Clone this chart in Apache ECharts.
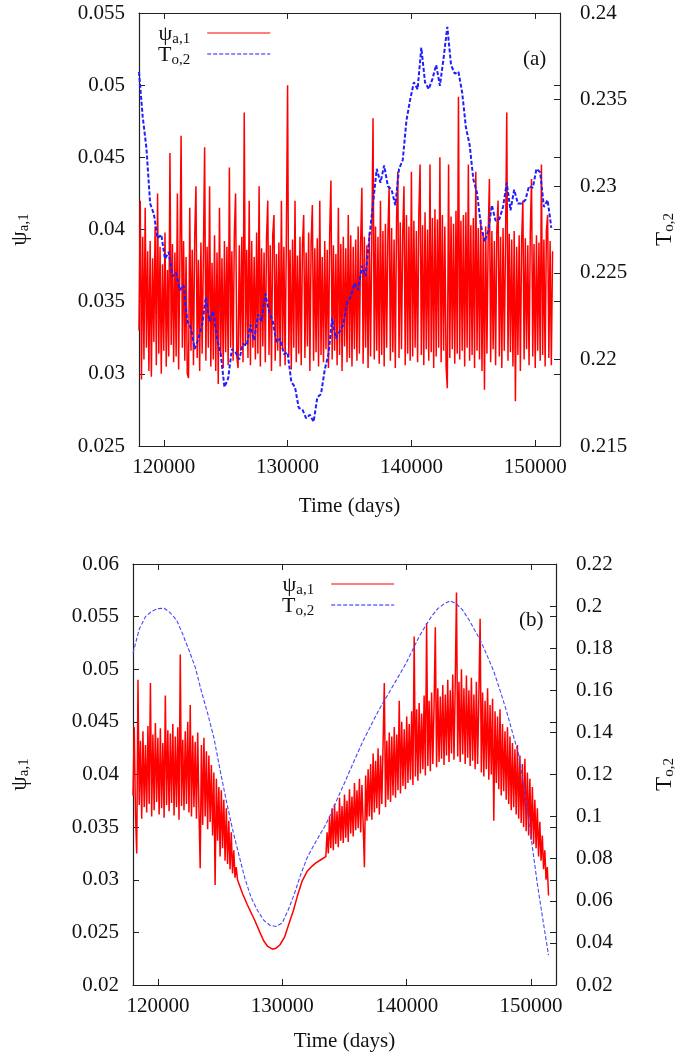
<!DOCTYPE html>
<html>
<head>
<meta charset="utf-8">
<script src="https://cdn.jsdelivr.net/npm/echarts@6/dist/echarts.min.js"></script>
<style>
html,body{margin:0;padding:0;background:#fff;}
#c{width:685px;height:1059px;}
</style>
</head>
<body>
<div id="c"></div>
<script>
// ---------- DATA ----------
var timeTicks = [120000, 130000, 140000, 150000];

// Panel (a): psi_a,1, sampled every 100 days from 118000
var redTopStart = 118000, redTopStep = 100;
var redTopVal = [
.0330,.0420,.0296,.0395,.0310,.0415,.0318,.0385,.0302,.0392,
.0298,.0380,.0322,.0402,.0306,.0425,.0314,.0388,.0300,.0376,
.0316,.0398,.0305,.0372,.0312,.0453,.0320,.0390,.0308,.0384,
.0312,.0425,.0303,.0378,.0465,.0318,.0392,.0309,.0381,.0300,
.0297,.0415,.0316,.0386,.0306,.0395,.0430,.0311,.0379,.0302,
.0391,.0314,.0382,.0457,.0309,.0388,.0318,.0430,.0305,.0377,
.0310,.0396,.0302,.0384,.0293,.0415,.0312,.0380,.0304,.0392,
.0315,.0388,.0306,.0443,.0318,.0385,.0309,.0397,.0425,.0312,
.0304,.0389,.0316,.0395,.0308,.0481,.0320,.0386,.0311,.0420,
.0306,.0392,.0318,.0381,.0310,.0398,.0314,.0430,.0305,.0387,
.0319,.0384,.0308,.0394,.0420,.0313,.0389,.0302,.0396,.0410,
.0309,.0383,.0316,.0391,.0305,.0420,.0317,.0388,.0306,.0394,
.0500,.0312,.0386,.0303,.0393,.0318,.0420,.0308,.0382,.0314,
.0395,.0306,.0389,.0410,.0311,.0384,.0319,.0398,.0302,.0390,
.0417,.0309,.0387,.0315,.0394,.0305,.0420,.0313,.0381,.0308,
.0392,.0317,.0386,.0304,.0398,.0434,.0310,.0389,.0316,.0383,
.0306,.0415,.0313,.0390,.0302,.0395,.0319,.0387,.0308,.0410,
.0311,.0396,.0305,.0388,.0317,.0393,.0309,.0402,.0314,.0391,
.0429,.0307,.0395,.0318,.0389,.0304,.0398,.0312,.0392,.0477,
.0310,.0402,.0316,.0395,.0307,.0420,.0313,.0399,.0305,.0404,
.0318,.0396,.0430,.0309,.0401,.0315,.0393,.0304,.0407,.0440,
.0311,.0405,.0317,.0398,.0430,.0306,.0410,.0314,.0402,.0309,
.0440,.0312,.0406,.0318,.0399,.0308,.0411,.0445,.0313,.0403,
.0306,.0412,.0317,.0400,.0309,.0445,.0315,.0408,.0304,.0414,
.0312,.0407,.0318,.0450,.0308,.0410,.0316,.0402,.0305,.0290,
.0445,.0311,.0409,.0317,.0404,.0307,.0413,.0314,.0492,.0310,
.0406,.0316,.0410,.0305,.0412,.0318,.0445,.0309,.0403,.0313,
.0408,.0304,.0440,.0316,.0401,.0310,.0407,.0302,.0398,.0289,
.0402,.0314,.0396,.0435,.0308,.0399,.0317,.0392,.0306,.0400,
.0420,.0312,.0395,.0304,.0401,.0316,.0390,.0481,.0309,.0397,
.0315,.0393,.0305,.0399,.0281,.0388,.0313,.0396,.0302,.0392,
.0420,.0310,.0394,.0317,.0389,.0306,.0398,.0435,.0312,.0390,
.0304,.0396,.0316,.0391,.0309,.0445,.0313,.0393,.0305,.0399,
.0410,.0311,.0392,.0306,.0385
];

// Panel (a): T_o,2, sampled every 300 days from 118000
var blueTopStart = 118000, blueTopStep = 300;
var blueTopVal = [
.2366,.2340,.2322,.2290,.2284,.2270,.2272,.2258,.2262,.2248,
.2250,.2240,.2243,.2222,.2218,.2206,.2212,.2220,.2236,.2222,
.2228,.2212,.2203,.2184,.2189,.2206,.2204,.2200,.2209,.2208,
.2220,.2211,.2226,.2222,.2238,.2228,.2222,.2210,.2212,.2203,
.2204,.2187,.2184,.2172,.2171,.2166,.2168,.2164,.2178,.2180,
.2194,.2203,.2224,.2212,.2216,.2220,.2233,.2236,.2244,.2240,
.2254,.2248,.2270,.2290,.2310,.2302,.2312,.2300,.2298,.2289,
.2310,.2315,.2338,.2350,.2360,.2356,.2380,.2360,.2356,.2362,
.2370,.2358,.2374,.2392,.2370,.2365,.2366,.2354,.2334,.2324,
.2304,.2296,.2278,.2268,.2274,.2289,.2280,.2281,.2288,.2302,
.2286,.2298,.2290,.2290,.2292,.2300,.2299,.2310,.2308,.2288,
.2292,.2276
];

// Panel (b): psi_a,1 noisy part 1 (every 100 days from 118000)
var redBot1Start = 118000, redBotStep = 100;
var redBot1Val = [
.0380,.0445,.0362,.0325,.0490,.0371,.0432,.0358,.0441,.0369,
.0428,.0364,.0446,.0372,.0487,.0360,.0438,.0366,.0449,.0374,
.0435,.0362,.0444,.0368,.0430,.0359,.0475,.0371,.0442,.0365,
.0439,.0373,.0448,.0361,.0436,.0369,.0445,.0357,.0514,.0370,
.0433,.0366,.0441,.0372,.0450,.0364,.0466,.0360,.0437,.0369,
.0431,.0358,.0440,.0367,.0311,.0428,.0352,.0435,.0360,.0422,
.0348,.0418,.0355,.0409,.0342,.0402,.0295,.0396,.0337,.0388,
.0322,.0385,.0330,.0376,.0318,.0368,.0315,.0356,.0310,.0345,
.0306,.0328,.0302,.0312
];
// Panel (b): psi_a,1 smooth part
var redBotSmoothTime = [126400,126800,127200,127600,127800,128200,128500,128800,129200,129500,129800,130200,130500,130900,131200,131600,132000,132400,132700,133100,133500];
var redBotSmoothVal = [.0300,.0287,.0276,.0266,.0261,.0250,.0242,.0237,.0234,.0235,.0238,.0246,.0257,.0271,.0284,.0299,.0308,.0313,.0316,.0319,.0322];
// Panel (b): psi_a,1 noisy part 2 (every 100 days from 133600)
var redBot2Start = 133600;
var redBot2Val = [
.0345,.0325,.0360,.0330,
.0368,.0328,.0372,.0334,.0365,.0331,.0378,.0337,.0370,.0335,
.0381,.0340,.0375,.0336,.0386,.0344,.0379,.0341,.0392,.0347,
.0385,.0349,.0396,.0345,.0390,.0353,.0312,.0399,.0356,.0405,
.0360,.0410,.0357,.0420,.0364,.0413,.0368,.0425,.0362,.0418,
.0372,.0428,.0487,.0369,.0432,.0376,.0440,.0374,.0436,.0380,
.0445,.0378,.0438,.0385,.0470,.0382,.0450,.0389,.0443,.0386,
.0455,.0392,.0448,.0395,.0460,.0390,.0531,.0398,.0462,.0394,
.0468,.0401,.0458,.0405,.0475,.0399,.0544,.0408,.0470,.0403,
.0478,.0410,.0466,.0540,.0407,.0482,.0412,.0474,.0415,.0485,
.0409,.0476,.0418,.0490,.0412,.0480,.0420,.0495,.0414,.0486,
.0573,.0417,.0488,.0412,.0500,.0419,.0482,.0410,.0494,.0416,
.0480,.0408,.0492,.0413,.0476,.0405,.0488,.0410,.0474,.0548,
.0402,.0478,.0398,.0470,.0405,.0482,.0395,.0466,.0400,.0472,
.0356,.0460,.0392,.0455,.0386,.0462,.0380,.0448,.0384,.0441,
.0376,.0445,.0372,.0436,.0366,.0430,.0369,.0424,.0362,.0428,
.0358,.0418,.0354,.0410,.0350,.0415,.0346,.0402,.0342,.0396,
.0338,.0388,.0334,.0376,.0330,.0368,.0322,.0355,.0318,.0342,
.0310,.0328,.0300,.0312,.0285
];

// Panel (b): T_o,2
var blueBotTime = [118000,118500,119000,119500,120000,120500,121000,121500,122000,122500,
123000,123500,124000,124500,125000,125500,126000,126500,127000,127500,
128000,128500,129000,129500,130000,130500,131000,131500,132000,132500,
133000,133500,134000,134500,135000,135500,136000,136500,137000,137500,
138000,138500,139000,139500,140000,140500,141000,141500,142000,142500,
143000,143500,144000,144500,145000,145500,146000,146500,147000,147500,
148000,148500,149000,149500,150000,150500,151000,151400];
var blueBotVal = [.1776,.1890,.1950,.1975,.1988,.1990,.1968,.1934,.1866,.1790,
.1710,.1595,.1490,.1375,.1221,.1075,.0940,.0820,.0705,.0615,
.0555,.0508,.0484,.0478,.0495,.0560,.0638,.0728,.0805,.0860,
.0912,.0963,.1025,.1095,.1160,.1228,.1295,.1360,.1418,.1477,
.1532,.1580,.1632,.1682,.1735,.1795,.1855,.1905,.1952,.1988,
.2010,.2025,.2010,.1981,.1935,.1882,.1828,.1760,.1690,.1600,
.1506,.1400,.1295,.1115,.0900,.0680,.0490,.0342];

// ---------- BUILD ----------
function regular(start, step, vals){ return vals.map(function(v,i){ return [start + i*step, v]; }); }
function paired(ts, vals){ return vals.map(function(v,i){ return [ts[i], v]; }); }

var redTopData = regular(redTopStart, redTopStep, redTopVal);
var blueTopData = regular(blueTopStart, blueTopStep, blueTopVal);
var redBotData = regular(redBot1Start, redBotStep, redBot1Val)
  .concat(paired(redBotSmoothTime, redBotSmoothVal))
  .concat(regular(redBot2Start, redBotStep, redBot2Val));
var blueBotData = paired(blueBotTime, blueBotVal);

var FONT = 'Liberation Serif';
var FS = 21;
var TXT = '#111';
var AX = '#222';
var rich = {
  m: {fontFamily: FONT, fontSize: 23, color: TXT, lineHeight: 20, verticalAlign: 'top'},
  s: {fontFamily: FONT, fontSize: 15, color: TXT, lineHeight: 14, padding: [9,0,0,0], verticalAlign: 'top'}
};
var richLeg = {
  m: {fontFamily: FONT, fontSize: 22, color: TXT, lineHeight: 20, verticalAlign: 'top'},
  s: {fontFamily: FONT, fontSize: 15, color: TXT, lineHeight: 13, padding: [9,12,0,0], verticalAlign: 'top'}
};

function xMain(grid, gap){
  return {
    type: 'value', gridIndex: grid, position: 'bottom', min: 118000, max: 152000,
    name: 'Time (days)', nameLocation: 'middle', nameGap: gap,
    nameTextStyle: {fontFamily: FONT, fontSize: FS, color: TXT},
    axisLine: {show: true, lineStyle: {color: AX, width: 1.2}},
    axisTick: {show: true, inside: true, length: 6, customValues: timeTicks, lineStyle: {color: AX}},
    axisLabel: {show: true, customValues: timeTicks, margin: 11, fontFamily: FONT, fontSize: FS, color: TXT,
      formatter: function(v){ return String(v); }},
    splitLine: {show: false}
  };
}
function xMirror(grid){
  return {
    type: 'value', gridIndex: grid, position: 'top', min: 118000, max: 152000,
    axisLine: {show: true, lineStyle: {color: AX, width: 1.2}},
    axisTick: {show: true, inside: true, length: 6, customValues: timeTicks, lineStyle: {color: AX}},
    axisLabel: {show: false}, splitLine: {show: false}
  };
}
function yAxisDef(grid, pos, min, max, interval, opts){
  var a = {
    type: 'value', gridIndex: grid, position: pos, min: min, max: max, interval: interval,
    axisLine: {show: true, lineStyle: {color: AX, width: 1.2}},
    axisTick: {show: true, inside: true, length: 6, lineStyle: {color: AX}},
    axisLabel: {show: true, margin: pos === 'left' ? 14 : 20, fontFamily: FONT, fontSize: FS, color: TXT},
    splitLine: {show: false}
  };
  for (var k in opts) a[k] = opts[k];
  return a;
}
function yMirror(grid, min, max, interval){
  return {
    type: 'value', gridIndex: grid, position: 'right', min: min, max: max, interval: interval,
    axisLine: {show: false}, axisTick: {show: true, inside: true, length: 6, lineStyle: {color: AX}},
    axisLabel: {show: false}, splitLine: {show: false}
  };
}

var psiName = '{m|ψ}{s|a,1}';
var tName = '{m|T}{s|o,2}';

var option = {
  animation: false,
  backgroundColor: '#fff',
  grid: [
    {left: 136, top: 13, width: 425.5, height: 433},
    {left: 130.5, top: 564, width: 426, height: 421}
  ],
  xAxis: [xMain(0, 50), xMirror(0), xMain(1, 46), xMirror(1)],
  yAxis: [
    yAxisDef(0, 'left', 0.025, 0.055, 0.005, {name: psiName, nameLocation: 'middle', nameGap: 111, nameTextStyle: {rich: rich}}),
    yAxisDef(0, 'right', 0.215, 0.24, 0.005, {name: tName, nameLocation: 'middle', nameGap: 93, nameTextStyle: {rich: rich}}),
    yMirror(0, 0.025, 0.055, 0.005),
    yAxisDef(1, 'left', 0.02, 0.06, 0.005, {name: psiName, nameLocation: 'middle', nameGap: 105, nameTextStyle: {rich: rich}}),
    yAxisDef(1, 'right', 0.02, 0.22, 0.02, {name: tName, nameLocation: 'middle', nameGap: 97, nameTextStyle: {rich: rich}}),
    yMirror(1, 0.02, 0.06, 0.005)
  ],
  legend: [
    {left: 153, top: 18, orient: 'vertical', align: 'right', itemGap: -3, itemWidth: 63, itemHeight: 10,
     selectedMode: false, data: ['psi','T'], itemStyle: {opacity: 0}, lineStyle: {width: 1.2},
     formatter: function(n){ return n === 'psi' ? psiName : tName; }, textStyle: {rich: richLeg}},
    {left: 277, top: 569, orient: 'vertical', align: 'right', itemGap: -3, itemWidth: 63, itemHeight: 10,
     selectedMode: false, data: ['psi','T'], itemStyle: {opacity: 0}, lineStyle: {width: 1.2},
     formatter: function(n){ return n === 'psi' ? psiName : tName; }, textStyle: {rich: richLeg}}
  ],
  graphic: [
    {type: 'text', left: 523, top: 49, style: {text: '(a)', font: FS + 'px "' + FONT + '"', fill: TXT}},
    {type: 'text', left: 519, top: 610, style: {text: '(b)', font: FS + 'px "' + FONT + '"', fill: TXT}}
  ],
  series: [
    {name: 'psi', type: 'line', xAxisIndex: 0, yAxisIndex: 0, data: redTopData, symbol: 'none', showSymbol: false,
     lineStyle: {color: '#ff0000', width: 1.5}, itemStyle: {color: '#ff0000'}, z: 2},
    {name: 'T', type: 'line', xAxisIndex: 0, yAxisIndex: 1, data: blueTopData, symbol: 'none', showSymbol: false,
     lineStyle: {color: '#1e1eff', width: 2, type: [4, 2]}, itemStyle: {color: '#1e1eff'}, z: 3},
    {name: 'psi', type: 'line', xAxisIndex: 2, yAxisIndex: 3, data: redBotData, symbol: 'none', showSymbol: false,
     lineStyle: {color: '#ff0000', width: 1.5}, itemStyle: {color: '#ff0000'}, z: 2},
    {name: 'T', type: 'line', xAxisIndex: 2, yAxisIndex: 4, data: blueBotData, symbol: 'none', showSymbol: false,
     lineStyle: {color: '#4646ff', width: 1.1, type: [4, 2]}, itemStyle: {color: '#4646ff'}, z: 3}
  ]
};
var chart = echarts.init(document.getElementById('c'), null, {renderer: 'canvas'});
chart.setOption(option);
</script>
</body>
</html>
